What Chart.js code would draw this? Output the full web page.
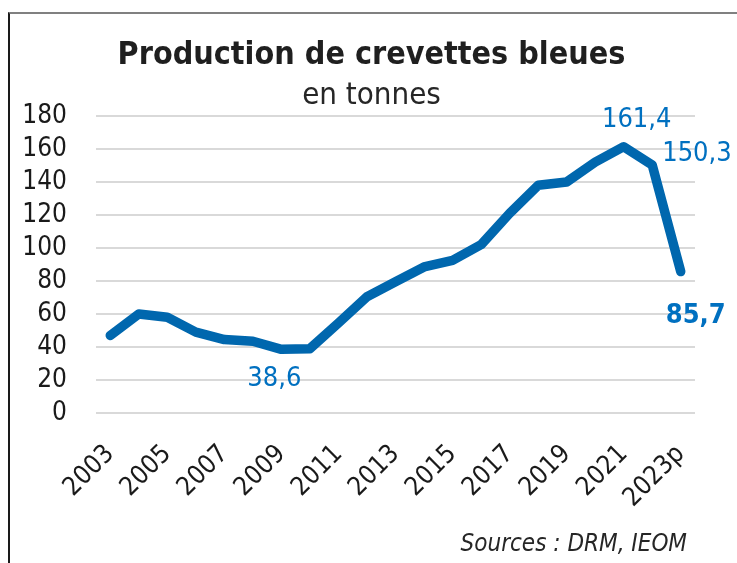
<!DOCTYPE html>
<html><head><meta charset="utf-8">
<script src="https://cdn.jsdelivr.net/npm/chart.js@4.4.1/dist/chart.umd.min.js"></script>
<style>
html,body{margin:0;padding:0;background:#fff;overflow:hidden;}
#frame{position:absolute;left:8px;top:12px;width:760px;height:600px;border-top:2px solid #808080;border-left:2px solid #1a1a1a;}
#wrap{position:absolute;left:0;top:0;width:737px;height:563px;}
</style></head><body>
<div id="frame"></div>
<div id="wrap"><canvas id="c"></canvas></div>
<script>
const years = ['2003','2004','2005','2006','2007','2008','2009','2010','2011','2012','2013','2014','2015','2016','2017','2018','2019','2020','2021','2022','2023p'];
const production = [47, 60, 58, 49, 44.5, 43.5, 38.6, 39, 54.5, 70.5, 79.5, 88.5, 92.5, 102, 121, 138, 140, 152, 161.4, 150.3, 85.7];
const yTickValues = [0, 20, 40, 60, 80, 100, 120, 140, 160, 180];
const labelledPoints = [6, 18, 19, 20];
const titleText = 'Production de crevettes bleues';
const subtitleText = 'en tonnes';
const sourceText = 'Sources : DRM, IEOM';

const FONT = '"DejaVu Sans Condensed", "DejaVu Sans", sans-serif';
const LINE_COLOR = '#0067AE';
const LABEL_COLOR = '#0070C0';

const labelStyle = {
  6:  {dx: -7, dy: 30, align: 'center', bold: false},
  18: {dx: 13, dy: -27, align: 'center', bold: false},
  19: {dx: 10, dy: -11, align: 'left', bold: false},
  20: {dx: 15, dy: 44, align: 'center', bold: true}
};

const valueLabels = {
  id: 'valueLabels',
  afterDatasetsDraw(chart) {
    const meta = chart.getDatasetMeta(0);
    const ctx = chart.ctx;
    ctx.save();
    labelledPoints.forEach(i => {
      const el = meta.data[i];
      const st = labelStyle[i];
      ctx.font = (st.bold ? 'bold ' : '') + '27px ' + FONT;
      ctx.fillStyle = LABEL_COLOR;
      ctx.textAlign = st.align;
      ctx.textBaseline = 'middle';
      ctx.fillText(String(production[i]).replace('.', ','), el.x + st.dx, el.y + st.dy);
    });
    ctx.restore();
  }
};

const sourceNote = {
  id: 'sourceNote',
  afterDraw(chart) {
    const ctx = chart.ctx;
    ctx.save();
    ctx.font = 'italic 24px ' + FONT;
    ctx.fillStyle = '#262626';
    ctx.textAlign = 'right';
    ctx.textBaseline = 'middle';
    ctx.fillText(sourceText, 687, 545);
    ctx.restore();
  }
};

new Chart(document.getElementById('c'), {
  type: 'line',
  data: {
    labels: years,
    datasets: [{
      data: production,
      borderColor: LINE_COLOR,
      borderWidth: 9.5,
      borderCapStyle: 'round',
      borderJoinStyle: 'round',
      pointRadius: 0,
      tension: 0,
      fill: false,
      yAxisID: 'y'
    }]
  },
  options: {
    responsive: true,
    maintainAspectRatio: false,
    animation: false,
    layout: {padding: {left: 14, right: 8, top: 20, bottom: 50}},
    plugins: {
      legend: {display: false},
      tooltip: {enabled: false},
      title: {
        display: true, text: titleText, color: '#1f1f1f',
        font: {family: FONT, size: 32, weight: 'bold'},
        padding: {top: 16, bottom: 3}
      },
      subtitle: {
        display: true, text: subtitleText, color: '#262626',
        font: {family: FONT, size: 31, weight: 'normal'},
        padding: {top: 0, bottom: 1.4}
      }
    },
    scales: {
      x: {
        offset: true,
        grid: {display: false},
        border: {display: false},
        afterFit(s) { s.height = 100; },
        ticks: {
          autoSkip: false, minRotation: 45, maxRotation: 45,
          color: '#1a1a1a', padding: 18,
          font: {family: FONT, size: 26},
          callback: (v, i) => (i % 2 === 0 ? years[i] : '')
        }
      },
      y: {
        type: 'linear',
        position: 'left',
        min: 0, max: 180,
        afterBuildTicks(s) { s.ticks = yTickValues.map(v => ({value: v})); },
        afterFit(s) { s.width = 82; },
        border: {display: false},
        grid: {color: '#d9d9d9', lineWidth: 2, drawTicks: false},
        ticks: {
          autoSkip: false,
          color: '#1a1a1a', padding: 29,
          font: {family: FONT, size: 26}
        }
      },
      yRight: {
        type: 'linear',
        position: 'right',
        display: true,
        grid: {display: false},
        border: {display: false},
        ticks: {display: false},
        afterFit(s) { s.width = 34; }
      }
    }
  },
  plugins: [valueLabels, sourceNote]
});
</script>
</body></html>
